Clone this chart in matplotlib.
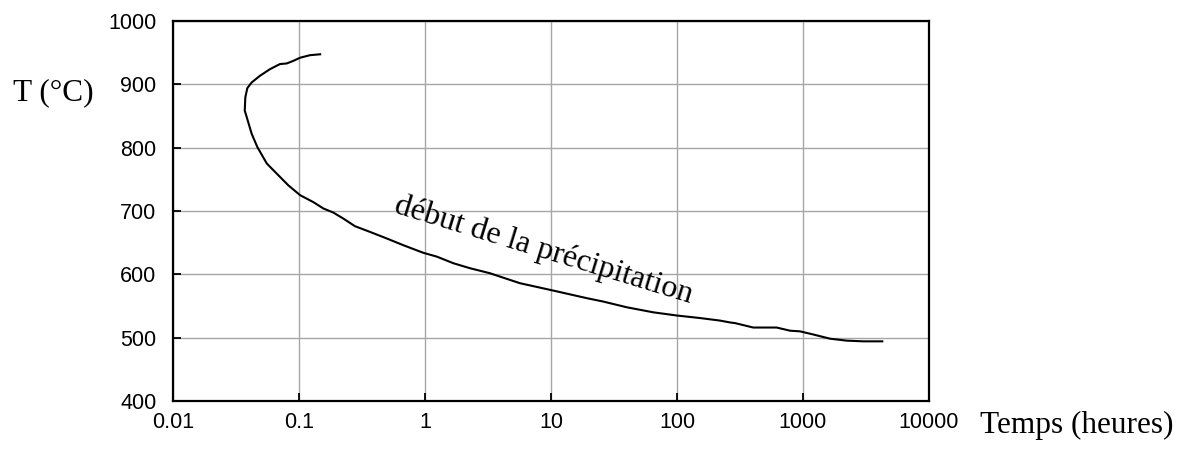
import matplotlib
matplotlib.use("Agg")
import matplotlib.pyplot as plt

# Début de précipitation : temps (h) et température (°C)
temps_h = [0.150, 0.122, 0.102, 0.090, 0.080, 0.0706, 0.0589, 0.049, 0.0421, 0.0389,
           0.0375, 0.0371, 0.0385, 0.0421, 0.0467, 0.0555, 0.0666, 0.0822, 0.102, 0.130,
           0.156, 0.187, 0.225, 0.278, 0.366, 0.496, 0.673, 0.969, 1.24, 1.68,
           2.28, 3.28, 3.94, 5.67, 10.4, 19.2, 26.0, 39.9, 64.9, 99.5,
           152, 219, 264, 289, 403, 618, 789, 946, 1208, 1637,
           2223, 3013, 4340]
temp_c = [947.6, 946, 942, 937, 933, 932, 924, 913.5, 903, 894,
          879.5, 858.5, 848, 822, 801, 775, 759, 740.6, 725, 714,
          704, 697.6, 688, 676, 667, 656.7, 646, 634, 628, 617.5,
          609.6, 601.7, 596.4, 586, 574.4, 562.4, 557, 548, 540, 535,
          531, 527, 524, 523, 516, 516, 511, 510, 505, 498.4,
          495.3, 494.2, 494.2]

x_ticks = [0.01, 0.1, 1, 10, 100, 1000, 10000]
x_tick_labels = ["0.01", "0.1", "1", "10", "100", "1000", "10000"]
y_ticks = [400, 500, 600, 700, 800, 900, 1000]
y_tick_labels = ["400", "500", "600", "700", "800", "900", "1000"]

serif = "Liberation Serif"
sans = "Liberation Sans"

fig = plt.figure(figsize=(11.91, 4.5), dpi=100)
ax = fig.add_axes([173 / 1191, 1 - 401 / 450, (929 - 173) / 1191, (401 - 21) / 450])

ax.plot(temps_h, temp_c, color="black", lw=1.5, solid_capstyle="butt")

ax.set_xscale("log")
ax.set_xlim(0.01, 10000)
ax.set_ylim(400, 1000)
ax.set_xticks(x_ticks)
ax.set_xticklabels(x_tick_labels)
ax.set_yticks(y_ticks)
ax.set_yticklabels(y_tick_labels)
ax.minorticks_off()

ax.grid(True, which="major", color="#a6a6a6", lw=1.0)
ax.set_axisbelow(True)
for s in ax.spines.values():
    s.set_linewidth(1.6)
    s.set_color("black")

ax.tick_params(axis="both", direction="in", length=6, width=1.3, color="black",
               labelsize=15.5)
ax.tick_params(axis="x", pad=8)
ax.tick_params(axis="y", pad=12)
for lab in ax.get_xticklabels() + ax.get_yticklabels():
    lab.set_fontfamily(sans)

ax.text(0.557, 698, "début de la précipitation", fontsize=23, family=serif,
        rotation=-17, rotation_mode="anchor", ha="left", va="baseline")

fig.text(13 / 1191, 1 - 100 / 450, "T (°C)", fontsize=22.5, family=serif,
         ha="left", va="baseline")
fig.text(980 / 1191, 1 - 433 / 450, "Temps (heures)", fontsize=22.5, family=serif,
         ha="left", va="baseline")

fig.savefig("out.png", dpi=100)
